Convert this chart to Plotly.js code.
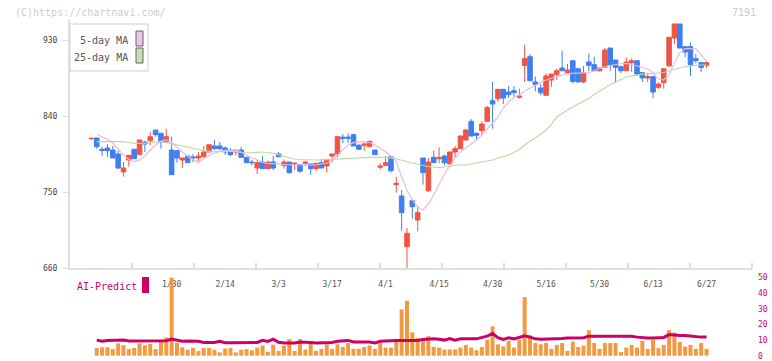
<!DOCTYPE html>
<html>
<head>
<meta charset="utf-8">
<script src="https://cdn.plot.ly/plotly-3.0.1.min.js"></script>
<style>
  html, body { margin: 0; padding: 0; background: #fff; }
  #chart { width: 772px; height: 361px; }
</style>
</head>
<body>
<div id="chart"></div>
<script>
// ---- Data ----
const opens = [813.0,814,800.6,802.1,799.7,795,773.7,787.9,800.6,794.2,809.2,810.8,823.4,819.5,809.2,799.7,798.9,787.9,792.6,791.5,790.3,791.8,797.4,804.5,804.5,802.1,798.9,797.4,799.7,791.1,785.5,778.4,785.5,777.6,785.5,795,781.6,785.5,783.2,782.4,784,783.2,777.6,784.7,780.8,792.6,795,815,815,817.9,805.3,805.3,803.6,799.7,779.3,781.6,791.8,758.8,745.3,685.2,739.7,716.8,790.3,751.5,791.1,789.4,792.6,783.2,797.4,801.3,811.6,833.7,819.5,822.6,833.7,858.2,860.5,871.6,868.4,870,862.1,900,910.2,880.3,873.2,864.5,882.6,888.9,896.8,891.3,905.5,896,880.3,904,900.8,893.6,897.6,920.5,906.3,898.4,893.6,903.2,905.5,891.3,885,886.6,874,879.5,899.2,932.4,949,922.1,922.1,907.9,903.2,900];
const highs = [813.6,814,803.6,806.8,804.5,798.9,785.5,793.5,800.6,811.6,810.8,821,823.4,820.2,825,815.5,799.5,790.3,792.6,795,797.4,804.5,806,811.6,809.2,804,802.1,799.7,803.6,791.1,788,787.9,792.6,787.1,792.6,797.4,788.7,785.5,785.5,782.4,787.1,783.2,784,788.7,788.7,795,815.5,818.7,819.5,817.9,807,808.4,811,799.7,784,792.6,791.8,768.1,752.4,707.4,741.5,733.4,790.3,790.3,798.9,803,794.2,797.4,804.5,817.1,825,836.2,820.2,833.7,851.8,880.3,871.6,871.6,875.5,875.5,872.3,924.5,913.4,886.6,877.9,890.6,889.7,896,917.3,901.6,905.5,896,899.2,914.2,910.2,898,920.5,920.5,906.3,899.2,909.5,907.9,905.5,892.1,891.3,886.6,879.5,896,933.2,949,949,922.1,927,913.4,904,904.8];
const lows = [813.0,801.3,792.6,791.8,790.3,776.9,768.1,780,789.4,794.2,797.4,805.3,815.5,801.3,808.4,770.5,784.7,778.4,784.7,785.5,786.4,791.8,797.4,800,800,794.2,792.6,793.5,791.1,784.7,781.6,771.3,777.6,777.6,776.1,791.1,777.6,772,776.1,772.9,780.8,770.5,775.2,778.4,772.9,784.7,791.1,807.7,808,804.5,800,798.9,803,794.2,776.9,781.6,772.9,749.2,704.2,660,718.4,703.5,758.7,750,784.7,784,781.6,783.2,791.1,801.3,811,816.3,811.6,816.3,833.7,825,856.6,854.2,861.3,862.9,860.5,880.3,881.8,869.2,864.5,864.5,874.8,882.6,893.6,890,878.7,880.3,878.7,893,893,893,897.6,893.6,879.5,890.6,893.6,892.1,887.4,880.3,880.3,861.3,872.3,872.3,899.2,925.3,920.5,909.5,887.4,902.4,892.1,896.8];
const closes = [813.6,803.6,799,799,790.3,778.4,778.4,793.5,789.4,811.6,806.8,815.5,817.9,809.2,815.5,770.5,790.3,790.3,784.7,790.5,792.6,797.4,806,801.3,801.3,797.4,794.2,799.7,791.1,784.7,784.7,784.7,777.6,785.5,778.4,791.8,785.5,772.9,784,774.5,785.5,777.6,784,778.4,788.7,795,815.5,813.6,813.6,804.5,800.6,806.8,810,794.2,780.8,784.7,775.2,760.3,725.5,701.1,732.6,725.5,772.9,785.5,784.7,791.1,784.7,797.4,801.3,816.3,823.4,816.3,817.1,830.5,850.2,854.2,871.6,861.3,865.2,867.6,863.7,907.9,881.8,877.1,867.6,887.4,889.7,893.6,893.6,894.5,881,880.3,891.3,900,893.6,896.8,918.2,900.8,897.6,893.6,904,905.5,889.7,885,886.6,868.4,877.9,896,933.2,949,920.5,915.8,900.8,905.5,897.6,903.2];

const ma5 = [null,818.7,815.7,812.2,807.7,800.9,793.8,788.5,786.1,787.9,792.6,799.7,805.7,810.4,811.6,809.2,802.7,797.4,792,787.9,784.7,789.7,793.2,796.2,798,799.7,799.7,799.7,797.4,793.8,790.3,788.5,784.9,784,784,783.2,782.6,782,782,782,782,782,782,783.2,784,787.9,793.8,800.9,805.7,808.4,809.2,809.6,808.6,805.7,801.5,797.7,792.6,786.7,767.8,752.4,740.5,732.2,728.7,735.8,746.4,759.5,771.3,780.8,790.3,797.4,802.1,806.8,811.6,817.5,824.6,830.5,838.8,849.5,856.6,861.9,864.9,869.6,873.2,876.7,879.7,882.6,884.4,886.2,888,890.3,890.6,890.6,890.9,891.3,893.9,896.5,898,899.8,901,901.9,902.4,901,899.2,897.7,895.7,890.9,883.8,882.6,888.6,902.8,914.6,919.9,920.2,919.9,912.2,905.1];
const ma25 = [null,809.6,809.6,809.6,809.6,809.6,809.6,808.6,807.7,807.7,807.7,808.3,809,809.6,808.4,806.8,805.7,804.5,803.3,801.5,800.3,799.1,798,797.7,798,798.2,798.6,798,796.8,796.2,796.5,797,797.4,796.8,795.8,793.8,792,790.5,789.1,788.5,788.1,787.9,787.9,788.1,788.5,788.8,789.1,789.4,789.9,790.3,790.5,790.9,791.1,791.1,791.1,791.1,790.3,789.1,787.9,786.1,784.3,782.6,781.4,780.2,779.2,778.8,779.6,780.8,781.6,782,782,783.2,784.3,785.5,786.7,787.9,790.3,792,793.8,796.8,800.3,805.7,810.4,813.9,818.7,823.4,830.5,838.8,843,847.1,851,854.2,857.2,860.7,865.5,869.6,873.2,877.3,880.3,883.2,886.2,887.6,889.1,889.7,890,890.3,890.6,891.5,893.3,895.1,896.8,898.6,899.4,900.2,900.4,900.4];

const volume = [null,5,5.4,5.4,4.2,7.9,6.7,4.2,5,7.9,6.7,7.5,4.2,10,11.7,50,8.3,5.4,3.8,5,2.9,5,5,3.8,2.1,4.6,5,2.1,3.8,4.2,3.5,5.2,6.5,2.5,7.1,3.1,6.3,10.6,3.1,10.6,4,7.7,3.1,4.4,7.3,4.4,7.3,5.6,8.1,4.4,4.4,5.6,6.5,4.4,8.1,5.2,5.2,9,29.6,35.2,15,11.3,10.8,12.5,5.6,5.2,4,4,4,5.2,6.9,5.2,3.5,5.6,10.2,18.8,7.3,6,9.4,5.2,10.2,37.5,13.1,8.1,7.3,8.1,4.4,6.9,8.1,3.1,9,5.6,6.5,16.3,8.1,4.4,8.1,8.1,8.1,2.3,5.2,6.9,5.2,9.4,4.4,10.2,4.8,6.9,16.3,14.8,8.8,5.8,6.9,4.4,8.1,4.4];
const aiPredict = [null,10,9.2,9.8,10,10,10,9.4,9.4,9.4,9.4,9.2,9.4,9.2,9.6,10.6,10,9.2,9.4,9.4,9.2,8.5,8.3,8.5,9.2,8.3,8.3,8.3,8.5,8.5,8.1,8.5,9.9,9.1,10.6,8.6,8.2,8.1,8.1,8.8,8.8,8.5,8.1,8.1,8.1,8.5,9.2,9.4,9.8,8.8,8.8,8.8,8.8,8.1,9.2,9.4,9.8,9.8,9.8,9.8,9.8,9.8,10.4,10.8,10.8,10.6,10,11,10,10.8,11,10.8,10.8,11.5,12.5,14.2,11.5,10.4,11.5,10.8,11.9,12.7,11.9,10.8,10.6,10.6,10.6,10.6,11,11.3,11.5,11.7,11.5,12.5,12.5,12.5,12.5,12.9,12.7,12.5,12.5,12.5,11.9,11.5,11.3,11.3,11.3,11.7,13.5,13.1,12.9,12.9,12.5,12.1,11.9,11.9];

const tickIndex = [15,25,35,45,55,65,75,85,95,105,115];
const tickLabels = ["1/30","2/14","3/3","3/17","4/1","4/15","4/30","5/16","5/30","6/13","6/27"];
const priceTicks = [660,750,840,930];
const volTicks = [0,10,20,30,40,50];

// ---- Build chart ----
const idx = closes.map((_, i) => i);
const MONO = "DejaVu Sans Mono, Liberation Mono, monospace";
const RED = "#f05444", BLUE = "#3f7ff0";
const XR = [-4, 123.5];
const minorTicks = [];
for (let k = 1; k <= 11; k++) minorTicks.push(XR[0] + k * (XR[1] - XR[0]) / 11);

const traces = [
  { type: "scatter", mode: "lines", x: idx, y: ma25, xaxis: "x", yaxis: "y",
    line: { color: "#b9dca6", width: 1.2 }, hoverinfo: "skip", showlegend: false },
  { type: "scatter", mode: "lines", x: idx, y: ma5, xaxis: "x", yaxis: "y",
    line: { color: "#e9b8ea", width: 1.2 }, hoverinfo: "skip", showlegend: false },
  { type: "candlestick", x: idx, open: opens, high: highs, low: lows, close: closes,
    xaxis: "x", yaxis: "y", whiskerwidth: 0, hoverinfo: "skip", showlegend: false,
    increasing: { line: { color: RED, width: 1 }, fillcolor: RED },
    decreasing: { line: { color: BLUE, width: 1 }, fillcolor: BLUE } },
  { type: "bar", x: idx, y: volume, xaxis: "x", yaxis: "y2", width: 0.75,
    marker: { color: "#f39a40", line: { width: 0 } }, hoverinfo: "skip", showlegend: false },
  { type: "scatter", mode: "lines", x: idx, y: aiPredict, xaxis: "x", yaxis: "y2",
    line: { color: "#cc0066", width: 3 }, hoverinfo: "skip", showlegend: false }
];

const PX0 = 70, PW = 682, PY0 = 20, PH = 336;
const px = X => (X - PX0) / PW;
const py = Y => (PY0 + PH - Y) / PH;

const layout = {
  width: 772, height: 361,
  margin: { l: 70, r: 20, t: 20, b: 5 },
  paper_bgcolor: "#fff", plot_bgcolor: "#fff",
  showlegend: false,
  boxgap: 0.15, boxgroupgap: 0,
  bargap: 0.25,
  xaxis: {
    range: XR, anchor: "y", tickmode: "array", tickvals: tickIndex, ticktext: tickLabels,
    ticks: "", showline: true, linecolor: "#dedede", linewidth: 2, showgrid: false, zeroline: false,
    tickfont: { family: MONO, size: 8, color: "#555" }, ticklabelstandoff: 7,
    rangeslider: { visible: false },
    minor: { tickmode: "array", tickvals: minorTicks, ticks: "inside", ticklen: 5, tickcolor: "#dedede", tickwidth: 2, showgrid: false }
  },
  yaxis: {
    domain: [py(268), 1], range: [660, 953.7], anchor: "x",
    tickmode: "array", tickvals: priceTicks, ticks: "outside", ticklen: 5, tickcolor: "#dedede", tickwidth: 1,
    showline: true, linecolor: "#dedede", linewidth: 2, showgrid: false, zeroline: false,
    tickfont: { family: MONO, size: 8, color: "#444" }, ticklabelstandoff: 4
  },
  yaxis2: {
    domain: [0, py(268)], range: [-0.2, 56.2], anchor: "x", side: "right",
    tickmode: "array", tickvals: volTicks, ticks: "", showline: false, showgrid: false, zeroline: false,
    tickfont: { family: MONO, size: 8, color: "#cc0066" }, ticklabelstandoff: 5,
    ticklabeloverflow: "allow"
  },
  shapes: [
    { type: "rect", xref: "paper", yref: "paper", x0: px(70), x1: px(148), y0: py(71), y1: py(24),
      line: { color: "#dedede", width: 1.5 }, fillcolor: "#fff", layer: "above" },
    { type: "rect", xref: "paper", yref: "paper", x0: px(136), x1: px(143), y0: py(46), y1: py(31),
      line: { color: "#666", width: 1 }, fillcolor: "#f0c4ee", layer: "above" },
    { type: "rect", xref: "paper", yref: "paper", x0: px(136), x1: px(143), y0: py(63), y1: py(48),
      line: { color: "#666", width: 1 }, fillcolor: "#c3e2b4", layer: "above" },
    { type: "rect", xref: "paper", yref: "paper", x0: px(142), x1: px(149), y0: py(293), y1: py(277),
      line: { width: 0 }, fillcolor: "#cc0066", layer: "above" }
  ],
  annotations: [
    { xref: "paper", yref: "paper", x: px(130), y: py(40), xanchor: "right", yanchor: "middle",
      text: "5-day MA", showarrow: false, font: { family: MONO, size: 10, color: "#555" } },
    { xref: "paper", yref: "paper", x: px(130), y: py(57), xanchor: "right", yanchor: "middle",
      text: "25-day MA", showarrow: false, font: { family: MONO, size: 10, color: "#555" } },
    { xref: "paper", yref: "paper", x: px(75), y: py(286), xanchor: "left", yanchor: "middle",
      text: "AI-Predict", showarrow: false, font: { family: MONO, size: 10, color: "#cc0066" } },
    { xref: "paper", yref: "paper", x: px(13), y: py(12), xanchor: "left", yanchor: "middle",
      text: "(C)https://chartnavi.com/", showarrow: false, font: { family: MONO, size: 10, color: "#cccccc" } },
    { xref: "paper", yref: "paper", x: px(758), y: py(12), xanchor: "right", yanchor: "middle",
      text: "7191", showarrow: false, font: { family: MONO, size: 10, color: "#cccccc" } }
  ]
};

Plotly.newPlot("chart", traces, layout, { staticPlot: true, displayModeBar: false });
</script>
</body>
</html>
